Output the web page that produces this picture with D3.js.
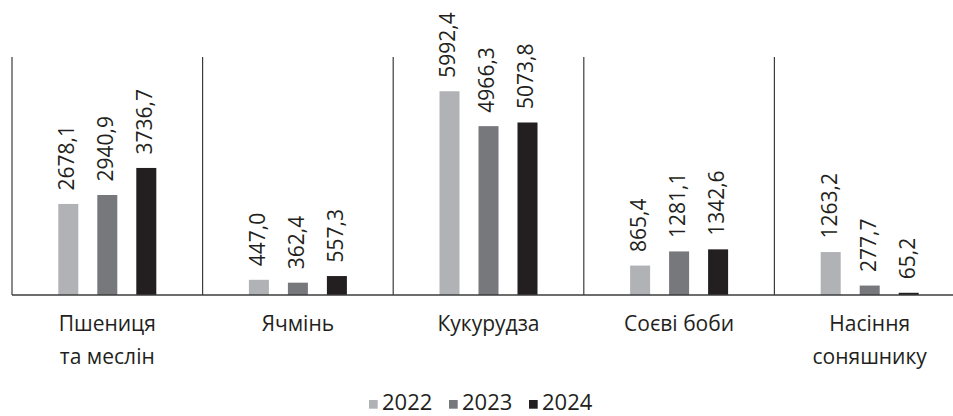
<!DOCTYPE html>
<html lang="uk">
<head>
    <meta charset="UTF-8">
    <title>Виробництво</title>
    <script src="https://d3js.org/d3.v7.min.js"></script>
    <style>
        body { margin: 0; background: #fff; font-family: 'Open Sans', sans-serif; }
        svg text { fill: #231f20; }
    </style>
</head>
<body>
    <div id="chart"></div>
    <script>
        // дані з діаграми
        const categories = ["Пшениця та меслін", "Ячмінь", "Кукурудза", "Соєві боби", "Насіння соняшнику"];
        const categoryLines = [["Пшениця", "та меслін"], ["Ячмінь"], ["Кукурудза"], ["Соєві боби"], ["Насіння", "соняшнику"]];
        const years = ["2022", "2023", "2024"];
        const values2022 = [2678.1, 447.0, 5992.4, 865.4, 1263.2];
        const values2023 = [2940.9, 362.4, 4966.3, 1281.1, 277.7];
        const values2024 = [3736.7, 557.3, 5073.8, 1342.6, 65.2];
        const seriesValues = [values2022, values2023, values2024];
        const colors = ["#b1b2b5", "#77787b", "#231f20"];

        const width = 953, height = 416;
        const margin = { left: 12, right: -12, top: 57, bottom: 121 };

        const svg = d3.select("#chart").append("svg")
            .attr("width", width)
            .attr("height", height);

        const x = d3.scaleBand()
            .domain(categories)
            .range([margin.left, width - margin.right])
            .padding(0);

        const xInner = d3.scaleBand()
            .domain(years)
            .range([-58.5, 58.5])
            .paddingInner(0.487)
            .paddingOuter(0.2435);

        const y = d3.scaleLinear()
            .domain([0, 7000])
            .range([height - margin.bottom, margin.top]);

        const fmt = v => d3.format(".1f")(v).replace(".", ",");

        // роздільники категорій
        const bounds = categories.map(c => x(c)).concat([x(categories[categories.length - 1]) + x.bandwidth()]);
        svg.append("g").selectAll("line")
            .data(bounds)
            .enter().append("line")
            .attr("x1", d => d).attr("x2", d => d)
            .attr("y1", y(7000)).attr("y2", y(0))
            .attr("stroke", "#3c3c3e")
            .attr("stroke-width", 1.2);

        // стовпчики та підписи
        years.forEach((yr, i) => {
            const rows = categories.map((c, j) => ({ c, v: seriesValues[i][j] }));
            const cx = d => x(d.c) + x.bandwidth() / 2 + xInner(yr);

            svg.append("g").selectAll("rect")
                .data(rows)
                .enter().append("rect")
                .attr("x", cx)
                .attr("y", d => y(d.v))
                .attr("width", xInner.bandwidth())
                .attr("height", d => y(0) - y(d.v))
                .attr("fill", colors[i]);

            svg.append("g").selectAll("text")
                .data(rows)
                .enter().append("text")
                .attr("transform", d => `translate(${cx(d) + xInner.bandwidth() / 2},${y(d.v) - 13.5}) rotate(-90)`)
                .attr("dy", "0.28em")
                .attr("font-size", "21px")
                .text(d => fmt(d.v));
        });

        // вісь X
        svg.append("line")
            .attr("x1", margin.left).attr("x2", width)
            .attr("y1", y(0)).attr("y2", y(0))
            .attr("stroke", "#3c3c3e")
            .attr("stroke-width", 1.4);

        const labels = svg.append("g").selectAll("text")
            .data(categories)
            .enter().append("text")
            .attr("text-anchor", "middle")
            .attr("font-size", "21px")
            .attr("y", 331);
        labels.each(function (c, j) {
            d3.select(this).selectAll("tspan")
                .data(categoryLines[j])
                .enter().append("tspan")
                .attr("x", x(c) + x.bandwidth() / 2)
                .attr("dy", (d, k) => k === 0 ? 0 : 32.5)
                .text(d => d);
        });

        // легенда
        const lx = d3.scalePoint().domain(years).range([369, 529]);
        const legend = svg.append("g").selectAll("g")
            .data(years)
            .enter().append("g")
            .attr("transform", d => `translate(${lx(d)},0)`);
        legend.append("rect")
            .attr("y", 400)
            .attr("width", 8.7).attr("height", 8.7)
            .attr("fill", (d, i) => colors[i]);
        legend.append("text")
            .attr("x", 13)
            .attr("y", 409.5)
            .attr("font-size", "22px")
            .text(d => d);
    </script>
</body>
</html>
